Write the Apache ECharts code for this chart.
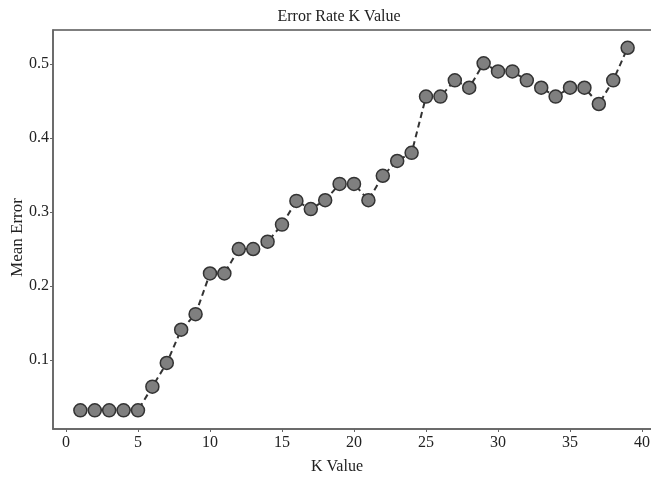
<!DOCTYPE html>
<html>
<head>
<meta charset="utf-8">
<script src="https://cdn.jsdelivr.net/npm/echarts@6/dist/echarts.min.js"></script>
<style>
  html, body { margin: 0; padding: 0; background: #fff; }
  #chart { width: 651px; height: 480px; }
</style>
</head>
<body>
<div id="chart"></div>
<script>
// K values and mean error
var kValues = [1, 2, 3, 4, 5, 6, 7, 8, 9, 10, 11, 12, 13, 14, 15, 16, 17, 18, 19, 20,
  21, 22, 23, 24, 25, 26, 27, 28, 29, 30, 31, 32, 33, 34, 35, 36, 37, 38, 39];
var meanError = [0.032, 0.032, 0.032, 0.032, 0.032, 0.064, 0.096, 0.141, 0.162, 0.217,
  0.217, 0.250, 0.250, 0.260, 0.283, 0.315, 0.304, 0.316, 0.338, 0.338,
  0.316, 0.349, 0.369, 0.380, 0.456, 0.456, 0.478, 0.468, 0.501, 0.490,
  0.490, 0.478, 0.468, 0.456, 0.468, 0.468, 0.446, 0.478, 0.522];
var xTicks = [0, 5, 10, 15, 20, 25, 30, 35, 40];
var yTicks = [0.1, 0.2, 0.3, 0.4, 0.5];

var points = [];
for (var i = 0; i < kValues.length; i++) {
  points.push([kValues[i], meanError[i]]);
}

var serif = '"Liberation Serif", "DejaVu Serif", serif';

var chart = echarts.init(document.getElementById('chart'));
chart.setOption({
  animation: false,
  backgroundColor: '#fff',
  title: {
    text: 'Error Rate K Value',
    left: 334,
    textAlign: 'center',
    top: 4,
    textStyle: { fontFamily: serif, fontWeight: 'normal', fontSize: 16, color: '#222' }
  },
  grid: {
    left: 53, top: 30, right: -4, bottom: 51,
    containLabel: false,
    outerBoundsMode: 'none',
    show: true, borderColor: '#555', borderWidth: 1.5, backgroundColor: 'transparent'
  },
  xAxis: {
    type: 'value',
    min: -0.9,
    max: 40.9,
    name: 'K Value',
    nameLocation: 'middle',
    nameGap: 30,
    nameMoveOverlap: false,
    nameTextStyle: { fontFamily: serif, fontSize: 16, color: '#222', padding: [0, 34, 0, 0] },
    splitLine: { show: false },
    axisLine: { onZero: false, lineStyle: { color: '#666', width: 1.5 } },
    axisTick: { customValues: xTicks, length: 3, lineStyle: { color: '#666' } },
    axisLabel: { customValues: xTicks, fontFamily: serif, fontSize: 16, color: '#222', margin: 6 }
  },
  yAxis: {
    type: 'value',
    min: 0.0068,
    max: 0.546,
    name: 'Mean Error',
    nameLocation: 'middle',
    nameGap: 27,
    nameMoveOverlap: false,
    nameTextStyle: { fontFamily: serif, fontSize: 17, color: '#222', padding: [0, 16, 0, 0] },
    splitLine: { show: false },
    axisLine: { onZero: false, lineStyle: { color: '#666', width: 1.5 } },
    axisTick: { customValues: yTicks, length: 3, lineStyle: { color: '#666' } },
    axisLabel: {
      customValues: yTicks, fontFamily: serif, fontSize: 16, color: '#222', margin: 4,
      formatter: function (v) { return v.toFixed(1); }
    }
  },
  series: [{
    type: 'line',
    data: points,
    symbol: 'circle',
    symbolSize: 13,
    lineStyle: { color: '#333', width: 2, type: [6, 4] },
    itemStyle: { color: '#7f7f7f', borderColor: '#333', borderWidth: 1.5 }
  }]
});
</script>
</body>
</html>
